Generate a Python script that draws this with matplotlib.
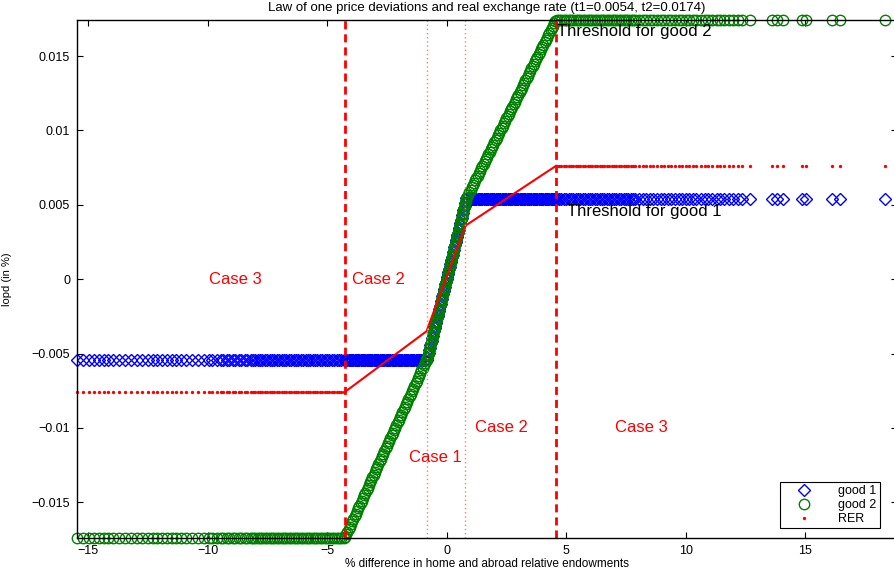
import matplotlib
matplotlib.use("Agg")
import matplotlib.pyplot as plt

# thresholds and real exchange rate plateau
t1 = 0.0054
t2 = 0.0174
rer_level = 0.0076

# sample points left of case 3 boundary (all series flat here)
left_x = [-15.45, -15.2, -14.95, -14.75, -14.55, -14.35, -14.15, -13.95, -13.7, -13.45,
          -13.2, -12.95, -12.75, -12.5, -12.3, -12.1, -11.9, -11.7, -11.5, -11.3,
          -11.1, -10.9, -10.65, -10.4, -10.15, -9.95, -9.8, -9.6, -9.45, -9.35,
          -9.2, -9.1, -8.95, -8.85, -8.7, -8.6, -8.45, -8.35, -8.2,
          -8.1, -8.0, -7.9, -7.8, -7.7, -7.6, -7.5, -7.4, -7.3, -7.2,
          -7.1, -7.0, -6.9, -6.8, -6.7, -6.6, -6.5, -6.4, -6.3, -6.2,
          -6.1, -6.0, -5.9, -5.8, -5.7, -5.6, -5.5, -5.4, -5.3, -5.2,
          -5.1, -5.0, -4.9, -4.8, -4.7, -4.6, -4.5, -4.4, -4.3]

# case 2 (left): good 2 rising, good 1 at lower threshold
lower_x = [-4.25, -4.2, -4.15, -4.1, -4.05, -4.0, -3.95, -3.9, -3.85, -3.8,
           -3.75, -3.7, -3.65, -3.6, -3.55, -3.5, -3.45, -3.4, -3.35, -3.3,
           -3.25, -3.2, -3.15, -3.1, -3.05, -3.0, -2.95, -2.9, -2.85, -2.8,
           -2.75, -2.7, -2.65, -2.6, -2.55, -2.5, -2.45, -2.4, -2.35, -2.3,
           -2.25, -2.2, -2.15, -2.1, -2.05, -2.0, -1.95, -1.9, -1.85, -1.8,
           -1.75, -1.7, -1.65, -1.6, -1.55, -1.5, -1.45, -1.4, -1.35, -1.3,
           -1.25, -1.2, -1.15, -1.1, -1.05, -1.0, -0.95, -0.9, -0.85]
lower_good2 = [-0.01733, -0.017155, -0.01698, -0.016805, -0.01663, -0.016455, -0.01628, -0.016105, -0.01593, -0.015755,
               -0.01558, -0.015405, -0.01523, -0.015055, -0.01488, -0.014705, -0.01453, -0.014355, -0.01418, -0.014005,
               -0.01383, -0.013655, -0.01348, -0.013305, -0.01313, -0.012955, -0.01278, -0.012605, -0.01243, -0.012255,
               -0.01208, -0.011905, -0.01173, -0.011555, -0.01138, -0.011205, -0.01103, -0.010855, -0.01068, -0.010505,
               -0.01033, -0.010155, -0.00998, -0.009805, -0.00963, -0.009455, -0.00928, -0.009105, -0.00893, -0.008755,
               -0.00858, -0.008405, -0.00823, -0.008055, -0.00788, -0.007705, -0.00753, -0.007355, -0.00718, -0.007005,
               -0.00683, -0.006655, -0.00648, -0.006305, -0.00613, -0.005955, -0.00578, -0.005605, -0.00543]

# case 1: both goods move together
mid_x = [-0.825, -0.8, -0.775, -0.75, -0.725, -0.7, -0.675, -0.65, -0.625, -0.6,
         -0.575, -0.55, -0.525, -0.5, -0.475, -0.45, -0.425, -0.4, -0.375, -0.35,
         -0.325, -0.3, -0.275, -0.25, -0.225, -0.2, -0.175, -0.15, -0.125, -0.1,
         -0.075, -0.05, -0.025, 0.0, 0.025, 0.05, 0.075, 0.1, 0.125, 0.15,
         0.175, 0.2, 0.225, 0.25, 0.275, 0.3, 0.325, 0.35, 0.375, 0.4,
         0.425, 0.45, 0.475, 0.5, 0.525, 0.55, 0.575, 0.6, 0.625, 0.65,
         0.675, 0.7, 0.725, 0.75, 0.775, 0.8, 0.825]
mid_lopd = [-0.005445, -0.00528, -0.005115, -0.00495, -0.004785, -0.00462, -0.004455, -0.00429, -0.004125, -0.00396,
            -0.003795, -0.00363, -0.003465, -0.0033, -0.003135, -0.00297, -0.002805, -0.00264, -0.002475, -0.00231,
            -0.002145, -0.00198, -0.001815, -0.00165, -0.001485, -0.00132, -0.001155, -0.00099, -0.000825, -0.00066,
            -0.000495, -0.00033, -0.000165, 0.0, 0.000165, 0.00033, 0.000495, 0.00066, 0.000825, 0.00099,
            0.001155, 0.00132, 0.001485, 0.00165, 0.001815, 0.00198, 0.002145, 0.00231, 0.002475, 0.00264,
            0.002805, 0.00297, 0.003135, 0.0033, 0.003465, 0.00363, 0.003795, 0.00396, 0.004125, 0.00429,
            0.004455, 0.00462, 0.004785, 0.00495, 0.005115, 0.00528, 0.005445]

# case 2 (right): good 2 rising, good 1 at upper threshold
upper_x = [0.85, 0.9, 0.95, 1.0, 1.05, 1.1, 1.15, 1.2, 1.25, 1.3,
           1.35, 1.4, 1.45, 1.5, 1.55, 1.6, 1.65, 1.7, 1.75, 1.8,
           1.85, 1.9, 1.95, 2.0, 2.05, 2.1, 2.15, 2.2, 2.25, 2.3,
           2.35, 2.4, 2.45, 2.5, 2.55, 2.6, 2.65, 2.7, 2.75, 2.8,
           2.85, 2.9, 2.95, 3.0, 3.05, 3.1, 3.15, 3.2, 3.25, 3.3,
           3.35, 3.4, 3.45, 3.5, 3.55, 3.6, 3.65, 3.7, 3.75, 3.8,
           3.85, 3.9, 3.95, 4.0, 4.05, 4.1, 4.15, 4.2, 4.25, 4.3,
           4.35, 4.4, 4.45, 4.5, 4.55]
upper_good2 = [0.005525, 0.005685, 0.005845, 0.006005, 0.006165, 0.006325, 0.006485, 0.006645, 0.006805, 0.006965,
               0.007125, 0.007285, 0.007445, 0.007605, 0.007765, 0.007925, 0.008085, 0.008245, 0.008405, 0.008565,
               0.008725, 0.008885, 0.009045, 0.009205, 0.009365, 0.009525, 0.009685, 0.009845, 0.010005, 0.010165,
               0.010325, 0.010485, 0.010645, 0.010805, 0.010965, 0.011125, 0.011285, 0.011445, 0.011605, 0.011765,
               0.011925, 0.012085, 0.012245, 0.012405, 0.012565, 0.012725, 0.012885, 0.013045, 0.013205, 0.013365,
               0.013525, 0.013685, 0.013845, 0.014005, 0.014165, 0.014325, 0.014485, 0.014645, 0.014805, 0.014965,
               0.015125, 0.015285, 0.015445, 0.015605, 0.015765, 0.015925, 0.016085, 0.016245, 0.016405, 0.016565,
               0.016725, 0.016885, 0.017045, 0.017205, 0.017365]

# sample points right of case 3 boundary
right_x = [4.6, 4.7, 4.8, 4.9, 5.0, 5.1, 5.2, 5.3, 5.4, 5.5,
           5.6, 5.7, 5.8, 5.9, 6.0, 6.1, 6.2, 6.3, 6.4, 6.5,
           6.6, 6.7, 6.8, 6.9, 7.0, 7.1, 7.2, 7.3, 7.4, 7.5,
           7.6, 7.7, 7.8, 7.9, 8.05, 8.2, 8.35, 8.5, 8.65, 8.8,
           8.95, 9.1, 9.25, 9.4, 9.55, 9.7, 9.85, 10.0, 10.15, 10.3,
           10.45, 10.65, 10.8, 10.95, 11.1, 11.3, 11.45, 11.6, 11.8, 12.0,
           12.2, 12.35, 12.7, 13.6, 13.8, 14.05, 14.85, 15.05, 16.1, 16.45,
           18.35]

# real exchange rate between the case 3 boundaries
rer_knot_x = [-4.27, -0.84, 0.79, 4.56]
rer_knot_y = [-0.0076, -0.0035, 0.0036, 0.0076]

# case boundaries
case3_bounds = [-4.27, 4.56]
case1_bounds = [-0.84, 0.79]

good1_x = left_x + lower_x + mid_x + upper_x + right_x
good1_y = ([-t1] * (len(left_x) + len(lower_x)) + mid_lopd
           + [t1] * (len(upper_x) + len(right_x)))
good2_x = left_x + lower_x + mid_x + upper_x + right_x
good2_y = [-t2] * len(left_x) + lower_good2 + mid_lopd + upper_good2 + [t2] * len(right_x)
rer_x = left_x + right_x
rer_y = [-rer_level] * len(left_x) + [rer_level] * len(right_x)

plt.rcParams['font.family'] = ['Liberation Sans', 'DejaVu Sans']

fig = plt.figure(figsize=(8.95, 5.72), dpi=100)
ax = fig.add_axes([0.086, 0.0594, 0.916, 0.905])

green = (0, 0.5, 0)
ax.plot(good1_x, good1_y, linestyle='none', marker='D', markersize=6.5,
        mfc='none', mec='blue', mew=1.0, label='good 1', clip_on=False)
ax.plot(good2_x, good2_y, linestyle='none', marker='o', markersize=7.5,
        mfc='none', mec=green, mew=1.0, label='good 2', clip_on=False)
ax.plot(rer_x, rer_y, linestyle='none', marker='.', markersize=2.8,
        color='red', label='RER', clip_on=False)
ax.plot(rer_knot_x, rer_knot_y, '-', color='red', lw=1.5)

for xb in case3_bounds:
    ax.axvline(xb, color='red', lw=2, linestyle=(0, (2.9, 1.8)))
for xb in case1_bounds:
    ax.axvline(xb, color='#ff7a7a', lw=1.0, linestyle=(0, (1, 2.0)))

case_style = dict(color='red', fontsize=12, ha='center', va='center')
ax.text(-8.83, 0.0, 'Case 3', **case_style)
ax.text(-2.85, 0.0, 'Case 2', **case_style)
ax.text(-0.46, -0.012, 'Case 1', **case_style)
ax.text(2.3, -0.01, 'Case 2', **case_style)
ax.text(8.16, -0.01, 'Case 3', **case_style)
ax.text(4.62, 0.01665, 'Threshold for good 2', fontsize=12, ha='left', va='center')
ax.text(5.02, 0.00456, 'Threshold for good 1', fontsize=12, ha='left', va='center')

ax.set_xlim(-15.46, 18.83)
ax.set_ylim(-0.0174, 0.0174)
ax.set_xticks([-15, -10, -5, 0, 5, 10, 15])
ax.set_yticks([-0.015, -0.01, -0.005, 0, 0.005, 0.01, 0.015])
ax.set_yticklabels(['\u22120.015', '\u22120.01', '\u22120.005', '0', '0.005', '0.01', '0.015'])
ax.tick_params(direction='in', length=4, width=0.8, labelsize=9,
               top=True, right=True, pad=5)
for s in ax.spines.values():
    s.set_linewidth(1.0)

ax.set_title('Law of one price deviations and real exchange rate (t1=0.0054, t2=0.0174)',
             fontsize=9.5, pad=7)
ax.set_xlabel('% difference in home and abroad relative endowments', fontsize=8.5, labelpad=1)
ax.set_ylabel('lopd (in %)', fontsize=8)
ax.yaxis.set_label_coords(-0.079, 0.5)

leg = ax.legend(loc='lower right', bbox_to_anchor=(0.979, 0.019), fontsize=9,
                fancybox=False, edgecolor='black', framealpha=1,
                handlelength=3.4, handletextpad=1.0, borderpad=0.25,
                labelspacing=0.15, borderaxespad=0)
leg.get_frame().set_linewidth(0.8)
leg.set_zorder(5)

fig.savefig('out.png', dpi=100)
